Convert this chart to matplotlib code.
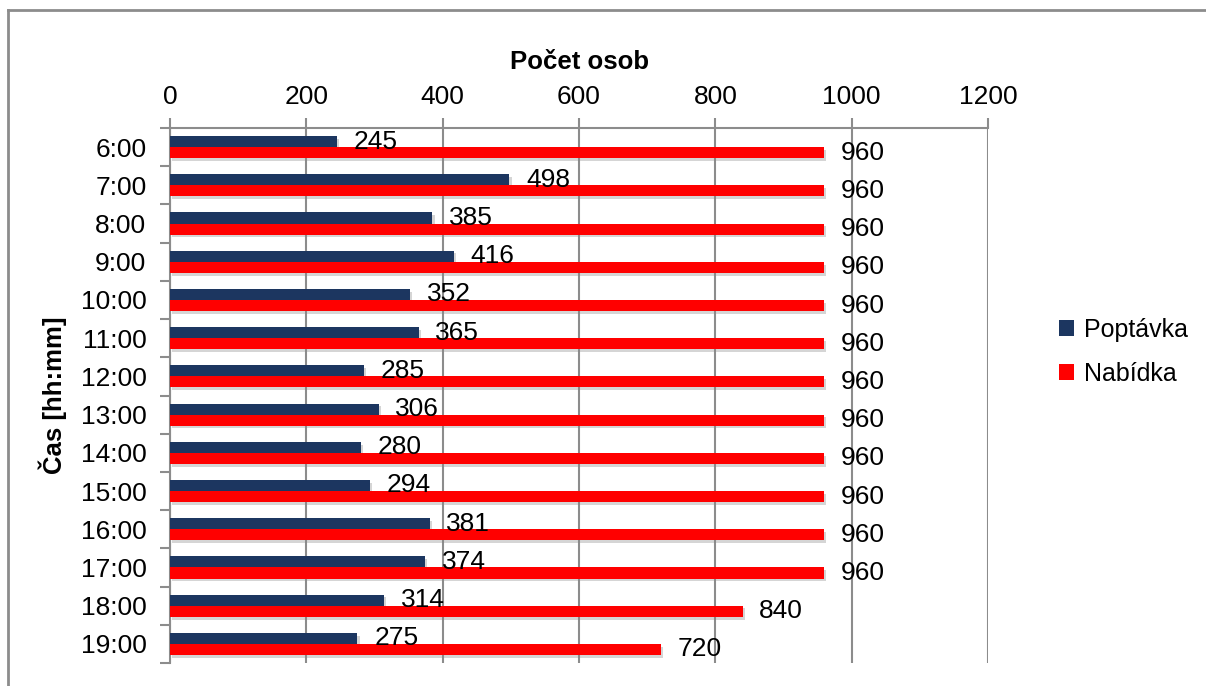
import numpy as np
import matplotlib.pyplot as plt
import matplotlib.patheffects as pe
from matplotlib.lines import Line2D

plt.rcParams['font.family'] = ['Liberation Sans', 'DejaVu Sans']

# Data
casy = ['6:00', '7:00', '8:00', '9:00', '10:00', '11:00', '12:00',
        '13:00', '14:00', '15:00', '16:00', '17:00', '18:00', '19:00']
poptavka = [245, 498, 385, 416, 352, 365, 285, 306, 280, 294, 381, 374, 314, 275]
nabidka = [960, 960, 960, 960, 960, 960, 960, 960, 960, 960, 960, 960, 840, 720]

c_pop = '#1c3660'
c_nab = '#ff0000'
c_grid = '#8c8c8c'
fs = 19

fig = plt.figure(figsize=(12.06, 6.86), dpi=100)
ax = fig.add_axes([170/1206, 1 - 663/686, (988-170)/1206, (663-128)/686])

y = np.arange(len(casy))
h = 0.29
stin = [pe.SimplePatchShadow(offset=(1.5, -2), shadow_rgbFace='#888888', alpha=0.35), pe.Normal()]
b1 = ax.barh(y - h/2, poptavka, height=h, color=c_pop, label='Poptávka', zorder=3)
b2 = ax.barh(y + h/2, nabidka, height=h, color=c_nab, label='Nabídka', zorder=3)
for b in list(b1) + list(b2):
    b.set_path_effects(stin)

# popisky hodnot
for i in range(len(casy)):
    ax.annotate(str(poptavka[i]), (poptavka[i], y[i] - h/2), xytext=(12, 0),
                textcoords='offset points', va='center', ha='left', fontsize=fs, zorder=4)
    ax.annotate(str(nabidka[i]), (nabidka[i], y[i] + h/2), xytext=(12, 0),
                textcoords='offset points', va='center', ha='left', fontsize=fs, zorder=4)

ax.set_xlim(0, 1200)
ax.set_ylim(len(casy) - 0.5, -0.5)
ax.set_xticks(np.arange(0, 1201, 200))
ax.xaxis.tick_top()
ax.xaxis.set_label_position('top')
ax.tick_params(axis='x', labelsize=fs, length=7, width=1.5, color=c_grid, pad=7)
ax.set_yticks(y)
ax.set_yticklabels(casy)
ax.set_yticks(np.arange(-0.5, len(casy)), minor=True)
ax.tick_params(axis='y', which='major', length=0, labelsize=fs, pad=17)
ax.tick_params(axis='y', which='minor', length=7, width=1.5, color=c_grid)
ax.grid(axis='x', color=c_grid, linewidth=1.5, zorder=0)
ax.set_axisbelow(True)

for s in ['right', 'bottom']:
    ax.spines[s].set_visible(False)
for s in ['top', 'left']:
    ax.spines[s].set_color(c_grid)
    ax.spines[s].set_linewidth(1.5)

ax.set_xlabel('Počet osob', fontsize=18.5, fontweight='bold', labelpad=11)
ax.set_ylabel('Čas [hh:mm]', fontsize=18.5, fontweight='bold', labelpad=10)

leg = ax.legend(loc='center left', bbox_to_anchor=(1036/1206, 1 - 352/686),
                bbox_transform=fig.transFigure, frameon=False,
                fontsize=18, handlelength=0.6, handleheight=0.6, handletextpad=0.4,
                labelspacing=0.8)
for p in leg.get_patches():
    p.set_path_effects([pe.Normal()])

# ramecek grafu
fig.add_artist(Line2D([8/1206, 1], [1 - 10/686, 1 - 10/686], color=c_grid, lw=2,
                      transform=fig.transFigure))
fig.add_artist(Line2D([8/1206, 8/1206], [0, 1 - 10/686], color=c_grid, lw=2,
                      transform=fig.transFigure))

fig.savefig('out.png', dpi=100)
